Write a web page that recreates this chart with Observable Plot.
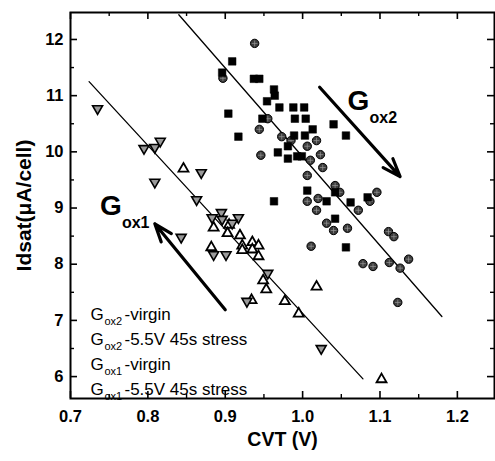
<!DOCTYPE html>
<html>
<head>
<meta charset="utf-8">
<script src="https://cdn.jsdelivr.net/npm/d3@7"></script>
<script src="https://cdn.jsdelivr.net/npm/@observablehq/plot@0.6"></script>
<style>
  html, body { margin: 0; padding: 0; background: #fff; }
  #chart { width: 495px; height: 461px; }
</style>
</head>
<body>
<div id="chart"></div>
<script>
// ---- data ----
const gox2Virgin = [[0.909,11.61],[0.896,11.41],[0.937,11.30],[0.944,11.30],[0.963,11.11],[0.964,11.00],[0.954,10.90],[0.970,10.79],[0.988,10.79],[1.002,10.79],[0.904,10.68],[0.948,10.59],[0.990,10.59],[1.004,10.59],[1.013,10.40],[1.040,10.49],[1.056,10.29],[0.917,10.27],[0.989,10.29],[1.003,10.29],[0.981,10.10],[0.968,9.99],[0.981,9.88],[0.993,9.92],[0.999,9.92],[1.006,9.31],[0.963,9.12],[1.031,9.12],[1.042,9.28],[1.062,9.10],[1.084,9.19],[1.042,8.81],[1.056,8.30]];
const gox2Stress = [[0.938,11.93],[0.897,11.31],[0.955,10.59],[0.944,10.40],[0.973,10.27],[0.985,10.20],[1.018,10.20],[1.006,10.10],[0.946,9.94],[1.010,9.85],[1.023,9.95],[1.026,9.72],[1.006,9.58],[1.042,9.40],[1.006,9.12],[1.020,9.17],[1.018,8.96],[1.031,8.73],[1.040,8.60],[1.058,8.64],[1.011,8.32],[1.048,9.28],[1.072,8.96],[1.087,9.12],[1.096,9.28],[1.111,8.58],[1.118,8.49],[1.078,8.01],[1.091,7.96],[1.112,8.03],[1.126,7.93],[1.137,8.09],[1.123,7.32]];
const gox1Virgin = [[0.846,9.70],[0.885,8.65],[0.905,8.70],[0.903,8.55],[0.919,8.51],[0.922,8.33],[0.935,8.39],[0.943,8.33],[0.922,8.25],[0.935,8.26],[0.943,8.14],[0.882,8.30],[0.949,7.71],[0.953,7.55],[0.934,7.36],[0.977,7.34],[0.995,7.12],[1.018,7.60],[1.102,5.95]];
const gox1Stress = [[0.735,10.77],[0.795,10.06],[0.809,10.08],[0.816,10.19],[0.869,9.63],[0.809,9.46],[0.863,9.15],[0.883,8.83],[0.895,8.92],[0.896,8.80],[0.917,8.83],[0.909,8.73],[0.843,8.48],[0.885,8.17],[0.901,8.17],[0.955,7.84],[0.928,7.34],[1.024,6.50]];

const fitGox1 = [[0.724,11.25],[1.078,5.96]];
const fitGox2 = [[0.840,12.44],[1.180,7.07]];
const arrows = [
  {x1: 1.022, y1: 11.15, x2: 1.126, y2: 9.56},
  {x1: 0.900, y1: 7.19, x2: 0.809, y2: 8.72}
];
const bigLabels = [
  {x: 1.058, y: 10.74, g: "G", sub: "ox2"},
  {x: 0.738, y: 8.87, g: "G", sub: "ox1"}
];
const legendMain = ["G", "G", "G", "G"];
const legendSub = ["ox2", "ox2", "ox1", "ox1"];
const legendRest = ["-virgin", "-5.5V 45s stress", "-virgin", "-5.5V 45s stress"];

const xTicks = [0.7, 0.8, 0.9, 1.0, 1.1, 1.2];
const xMinor = [0.75, 0.85, 0.95, 1.05, 1.15];
const yTicks = [6, 7, 8, 9, 10, 11, 12];
const yMinor = [6.5, 7.5, 8.5, 9.5, 10.5, 11.5];
const xTitle = "CVT (V)";
const yTitle = "Idsat(\u03BCA/cell)";

// ---- layout ----
const W = 495, H = 461;
const mL = 70, mR = 1, mT = 12, mB = 63;
const iw = W - mL - mR, ih = H - mT - mB;
const font = "Liberation Sans, Arial, Helvetica, sans-serif";

const triDown = {
  draw(context, size) {
    const y = -Math.sqrt(size / (Math.sqrt(3) * 3));
    context.moveTo(0, -y * 2);
    context.lineTo(-Math.sqrt(3) * y, y);
    context.lineTo(Math.sqrt(3) * y, y);
    context.closePath();
  }
};

const legendBaselines = [319, 344, 369, 394];
const legendMarks = [];
legendMain.forEach((g, i) => {
  const dy = legendBaselines[i] - (H - mB);
  legendMarks.push(Plot.text([g], {frameAnchor: "bottom-left", text: d => d, textAnchor: "start", lineAnchor: "bottom", dx: 20, dy, fontSize: 17, fill: "#000"}));
  legendMarks.push(Plot.text([legendSub[i]], {frameAnchor: "bottom-left", text: d => d, textAnchor: "start", lineAnchor: "bottom", dx: 34, dy: dy + 5, fontSize: 11, fill: "#000"}));
  legendMarks.push(Plot.text([legendRest[i]], {frameAnchor: "bottom-left", text: d => d, textAnchor: "start", lineAnchor: "bottom", dx: 54, dy, fontSize: 17, fill: "#000"}));
});

const chart = Plot.plot({
  width: W, height: H,
  marginLeft: mL, marginRight: mR, marginTop: mT, marginBottom: mB,
  style: {fontFamily: font, background: "#fff", color: "#000"},
  x: {domain: [0.7, 1.248]},
  y: {domain: [5.61, 12.48]},
  marks: [
    Plot.axisX({ticks: xTicks, tickSize: 0, tickPadding: 12, tickFormat: d3.format(".1f"), fontSize: 16.5, fontWeight: "bold", label: null}),
    Plot.axisY({ticks: yTicks, tickSize: 0, tickPadding: 7, tickFormat: d3.format("d"), fontSize: 16.5, fontWeight: "bold", label: null}),
    Plot.tickX(xTicks, {x: d => d, insetTop: ih - 7, stroke: "#000", strokeWidth: 1.6}),
    Plot.tickX(xTicks, {x: d => d, insetBottom: ih - 7, stroke: "#000", strokeWidth: 1.6}),
    Plot.tickX(xMinor, {x: d => d, insetTop: ih - 4, stroke: "#000", strokeWidth: 1.4}),
    Plot.tickX(xMinor, {x: d => d, insetBottom: ih - 4, stroke: "#000", strokeWidth: 1.4}),
    Plot.tickY(yTicks, {y: d => d, insetRight: iw - 7, stroke: "#000", strokeWidth: 1.6}),
    Plot.tickY(yTicks, {y: d => d, insetLeft: iw - 7, stroke: "#000", strokeWidth: 1.6}),
    Plot.tickY(yMinor, {y: d => d, insetRight: iw - 4, stroke: "#000", strokeWidth: 1.4}),
    Plot.tickY(yMinor, {y: d => d, insetLeft: iw - 4, stroke: "#000", strokeWidth: 1.4}),
    Plot.line(fitGox1, {x: d => d[0], y: d => d[1], stroke: "#000", strokeWidth: 1.3}),
    Plot.line(fitGox2, {x: d => d[0], y: d => d[1], stroke: "#000", strokeWidth: 1.3}),
    Plot.arrow(arrows, {x1: "x1", y1: "y1", x2: "x2", y2: "y2", stroke: "#000", strokeWidth: 3.2, headLength: 9, headAngle: 40}),
    Plot.dot(gox1Virgin, {x: d => d[0], y: d => d[1], symbol: "triangle", r: 3.7, fill: "#fff", stroke: "#000", strokeWidth: 1.8}),
    Plot.dot(gox1Stress, {x: d => d[0], y: d => d[1], symbol: triDown, r: 3.7, fill: "#9a9a9a", stroke: "#000", strokeWidth: 1.6}),
    Plot.dot(gox2Stress, {x: d => d[0], y: d => d[1], symbol: "circle", r: 4.2, fill: "#3c3c3c", stroke: "#000", strokeWidth: 1}),
    Plot.dot(gox2Stress, {x: d => d[0], y: d => d[1], symbol: "plus", r: 2, stroke: "#999", strokeWidth: 0.7}),
    Plot.dot(gox2Virgin, {x: d => d[0], y: d => d[1], symbol: "square", r: 4.3, fill: "#000", stroke: "#000", strokeWidth: 0.5}),
    Plot.text(bigLabels, {x: "x", y: "y", text: "g", textAnchor: "start", lineAnchor: "bottom", fontSize: 28, fontWeight: "bold", fill: "#000"}),
    Plot.text(bigLabels, {x: "x", y: "y", text: "sub", textAnchor: "start", lineAnchor: "bottom", dx: 22, dy: 13, fontSize: 16, fontWeight: "bold", fill: "#000"}),
    ...legendMarks,
    Plot.frame({stroke: "#000", strokeWidth: 2}),
    Plot.text([yTitle], {frameAnchor: "left", textAnchor: "middle", dx: -46, rotate: -90, text: d => d, fontSize: 21, fontWeight: "bold", fill: "#000"}),
    Plot.text([xTitle], {frameAnchor: "bottom", textAnchor: "middle", dy: 47, text: d => d, fontSize: 19.5, fontWeight: "bold", fill: "#000"})
  ]
});

document.getElementById("chart").appendChild(chart);
</script>
</body>
</html>
